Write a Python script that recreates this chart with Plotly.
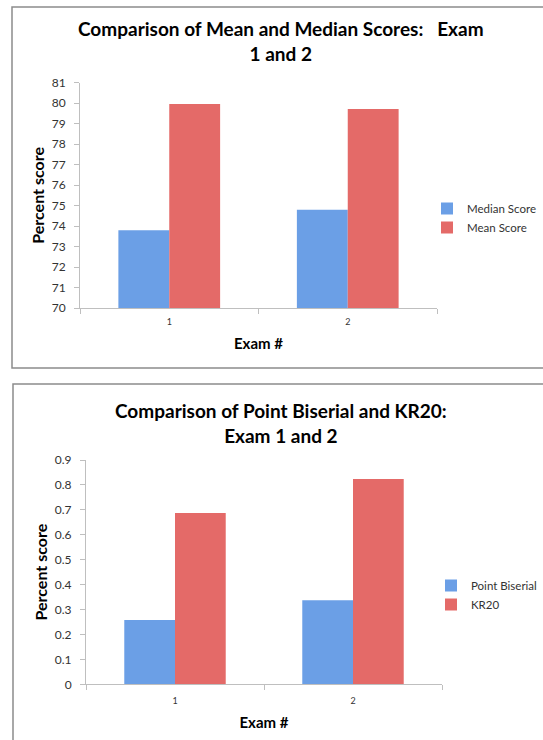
import plotly.graph_objects as go

# ---- data ----
exams = ["1", "2"]
median_scores = [73.8, 74.8]
mean_scores = [79.97, 79.72]
point_biserial = [0.258, 0.337]
kr20 = [0.687, 0.824]

title_top = "Comparison of Mean and Median Scores:   Exam<br>1 and 2"
title_bottom = "Comparison of Point Biserial and KR20:<br>Exam 1 and 2"

W, H = 543, 740
def fx(px): return px / W
def fy(py): return 1 - py / H

BLUE = "#6b9fe6"
RED = "#e46a68"
FONT = "Lato"
TXT = "#333333"

fig = go.Figure()
fig.add_trace(go.Bar(x=exams, y=median_scores, name="Median Score", marker=dict(color=BLUE, line=dict(width=0)),
                     xaxis="x", yaxis="y", legend="legend"))
fig.add_trace(go.Bar(x=exams, y=mean_scores, name="Mean Score", marker=dict(color=RED, line=dict(width=0)),
                     xaxis="x", yaxis="y", legend="legend"))
fig.add_trace(go.Bar(x=exams, y=point_biserial, name="Point Biserial", marker=dict(color=BLUE, line=dict(width=0)),
                     xaxis="x2", yaxis="y2", legend="legend2"))
fig.add_trace(go.Bar(x=exams, y=kr20, name="KR20", marker=dict(color=RED, line=dict(width=0)),
                     xaxis="x2", yaxis="y2", legend="legend2"))

line_common = dict(showgrid=False, zeroline=False, showline=True, linecolor="#bfbfbf", linewidth=1,
                   ticks="outside", ticklen=5, tickcolor="#bfbfbf", automargin=False)
yfont = dict(family=FONT, size=12, color=TXT)
xfont = dict(family=FONT, size=9, color=TXT)
xtitle = dict(text="<b>Exam #</b>", font=dict(family=FONT, size=15, color="#000"), standoff=12)
ytitle = dict(text="<b>Percent score</b>", font=dict(family=FONT, size=16, color="#000"), standoff=3)

fig.update_layout(
    width=W, height=H, margin=dict(l=0, r=0, t=0, b=0, autoexpand=False),
    paper_bgcolor="white", plot_bgcolor="white",
    barmode="group", bargap=0.43, bargroupgap=0,
    font=dict(family=FONT, color=TXT),
    xaxis=dict(domain=[fx(80), fx(437)], anchor="y", tickson="boundaries", title=xtitle,
               tickfont=xfont, ticklabelstandoff=5, **line_common),
    yaxis=dict(domain=[fy(308), fy(82.8)], anchor="x", range=[70, 81], dtick=1, title=ytitle,
               tickfont=yfont, ticklabelstandoff=6, **line_common),
    xaxis2=dict(domain=[fx(86), fx(442)], anchor="y2", tickson="boundaries", title=xtitle,
                tickfont=xfont, ticklabelstandoff=8, **line_common),
    yaxis2=dict(domain=[fy(684.3), fy(460)], anchor="x2", range=[0, 0.9], dtick=0.1, title=ytitle,
                tickfont=yfont, ticklabelstandoff=6, **line_common),
    legend=dict(x=fx(427), y=fy(194), xanchor="left", yanchor="top", bgcolor="rgba(0,0,0,0)",
                font=dict(family=FONT, size=11.5, color=TXT), itemwidth=30, tracegroupgap=0),
    legend2=dict(x=fx(431), y=fy(571), xanchor="left", yanchor="top", bgcolor="rgba(0,0,0,0)",
                 font=dict(family=FONT, size=11.5, color=TXT), itemwidth=30, tracegroupgap=0),
    annotations=[
        dict(text="<b>" + title_top.replace("<br>", "</b><br><b>") + "</b>", x=fx(281), y=fy(15),
             xref="paper", yref="paper", xanchor="center", yanchor="top", showarrow=False,
             font=dict(family=FONT, size=19, color="#000")),
        dict(text="<b>" + title_bottom.replace("<br>", "</b><br><b>") + "</b>", x=fx(281), y=fy(397),
             xref="paper", yref="paper", xanchor="center", yanchor="top", showarrow=False,
             font=dict(family=FONT, size=19, color="#000")),
    ],
    shapes=[
        dict(type="rect", xref="paper", yref="paper", x0=fx(12), x1=fx(560), y0=fy(368), y1=fy(7),
             line=dict(color="#8c8c8c", width=1.5)),
        dict(type="rect", xref="paper", yref="paper", x0=fx(13), x1=fx(560), y0=fy(760), y1=fy(384),
             line=dict(color="#8c8c8c", width=1.5)),
    ],
)

fig.write_html("out.html")
